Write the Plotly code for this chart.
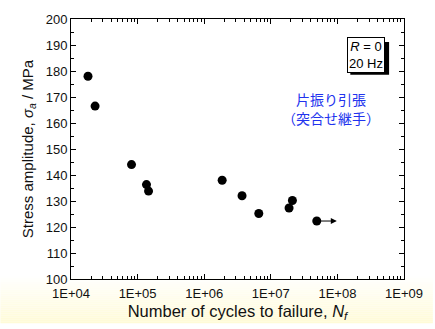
import plotly.graph_objects as go
import numpy as np

# Data
cycles = [1.8e4, 2.3e4, 8.1e4, 1.36e5, 1.46e5, 1.86e6, 3.7e6, 6.6e6, 1.88e7, 2.11e7, 4.9e7]
stress = [178.0, 166.5, 144.0, 136.3, 133.8, 138.0, 132.0, 125.2, 127.3, 130.2, 122.3]
runout_from = 4.9e7
runout_to = 9.8e7
runout_stress = 122.3
xtick_vals = [1e4, 1e5, 1e6, 1e7, 1e8, 1e9]
xtick_text = ["1E+04", "1E+05", "1E+06", "1E+07", "1E+08", "1E+09"]
ytick_vals = [100, 110, 120, 130, 140, 150, 160, 170, 180, 190, 200]

W, H = 435, 329
L, R, T, B = 71, 29, 13, 46
pw, ph = W - L - R, H - T - B

def px(x):
    return (x - L) / pw

def py(y):
    return (H - B - y) / ph

fig = go.Figure()
fig.add_trace(go.Scatter(
    x=cycles, y=stress, mode="markers",
    marker=dict(size=9, color="black"), showlegend=False, hoverinfo="x+y"))

# gradient background below plot area
shapes = []
n = 24
y_start, y_end = 280, H
for i in range(n):
    y0 = y_start + (y_end - y_start) * i / n
    y1 = y_start + (y_end - y_start) * (i + 1) / n
    f = (i + 0.5) / n
    r = 255
    g = int(round(255 - (255 - 251) * f))
    b = int(round(255 - (255 - 214) * f))
    shapes.append(dict(type="rect", xref="paper", yref="paper",
                       x0=px(0), x1=px(W), y0=py(y1), y1=py(y0),
                       fillcolor=f"rgb({r},{g},{b})", line=dict(width=0),
                       layer="below"))
# shadow of the condition box
shapes.append(dict(type="rect", xref="paper", yref="paper",
                   x0=px(352), x1=px(391), y0=py(71), y1=py(37),
                   fillcolor="black", line=dict(width=0), layer="above"))

annotations = [
    dict(x=np.log10(runout_to), y=runout_stress, ax=np.log10(runout_from), ay=runout_stress,
         xref="x", yref="y", axref="x", ayref="y", text="", showarrow=True,
         arrowhead=2, arrowsize=1.2, arrowwidth=1, arrowcolor="black", standoff=0, startstandoff=0),
    dict(x=px(367.5), y=py(50), xref="paper", yref="paper",
         text="<i>R</i> = 0<br>20 Hz", showarrow=False,
         font=dict(family="Liberation Sans, Arial", size=13, color="black"),
         bgcolor="white", bordercolor="black", borderwidth=1, borderpad=1,
         xanchor="center", yanchor="middle"),
    dict(x=px(333), y=py(96), xref="paper", yref="paper",
         text="片振り引張", showarrow=False,
         font=dict(family="Noto Sans CJK JP", size=14, color="#2233ee"),
         xanchor="center", yanchor="middle", borderpad=0),
    dict(x=px(333), y=py(116), xref="paper", yref="paper",
         text="（突合せ継手）", showarrow=False,
         font=dict(family="Noto Sans CJK JP", size=14, color="#2233ee"),
         xanchor="center", yanchor="middle", borderpad=0),
]

axis_common = dict(showline=True, linecolor="black", linewidth=1, mirror="ticks",
                   ticks="inside", tickcolor="black", ticklen=5, tickwidth=1,
                   showgrid=False, zeroline=False,
                   tickfont=dict(family="Liberation Sans, Arial", size=13, color="#111"))

fig.update_layout(
    width=W, height=H,
    margin=dict(l=L, r=R, t=T, b=B),
    paper_bgcolor="white", plot_bgcolor="white",
    shapes=shapes, annotations=annotations,
    xaxis=dict(type="log", range=[4, 9], tickvals=xtick_vals, ticktext=xtick_text,
               ticklabelstandoff=2,
               minor=dict(ticks="inside", ticklen=3, tickcolor="black", dtick="D1", showgrid=False),
               title=dict(text="Number of cycles to failure, <i>N<sub>f</sub></i>",
                          font=dict(family="Liberation Sans, Arial", size=16.5, color="#111"),
                          standoff=5),
               **axis_common),
    yaxis=dict(range=[100, 200], tickvals=ytick_vals,
               minor=dict(ticks="inside", ticklen=3, tickcolor="black", dtick=5, showgrid=False),
               title=dict(text="Stress amplitude, <i>σ<sub>a</sub></i> / MPa",
                          font=dict(family="Liberation Sans, Arial", size=15, color="#111"),
                          standoff=8),
               **axis_common),
)

fig.write_html("out.html")
